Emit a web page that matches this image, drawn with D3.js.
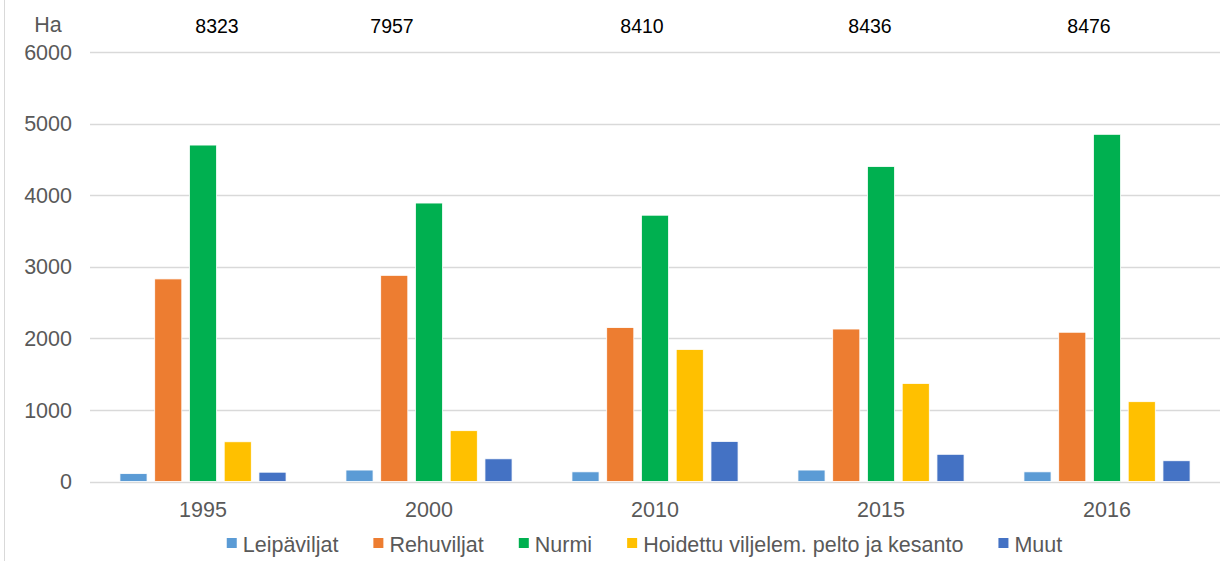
<!DOCTYPE html>
<html>
<head>
<meta charset="utf-8">
<script src="https://cdn.jsdelivr.net/npm/d3@7"></script>
<style>
  body { margin: 0; background: #fff; }
  text { font-family: "Liberation Sans", Arial, sans-serif; }
</style>
</head>
<body>
<div id="chart"></div>
<script>
// data
var years = ["1995", "2000", "2010", "2015", "2016"];
var seriesNames = ["Leipäviljat", "Rehuviljat", "Nurmi", "Hoidettu viljelem. pelto ja kesanto", "Muut"];
var leipaviljat = [110, 160, 135, 160, 135];
var rehuviljat = [2830, 2880, 2150, 2130, 2085];
var nurmi = [4700, 3890, 3720, 4400, 4850];
var hoidettu = [555, 710, 1845, 1370, 1115];
var muut = [130, 317, 560, 380, 290];
var totals = [8323, 7957, 8410, 8436, 8476];
var yTicks = [0, 1000, 2000, 3000, 4000, 5000, 6000];

var colors = ["#5b9bd5", "#ed7d31", "#00b050", "#ffc000", "#4472c4"];
var seriesValues = [leipaviljat, rehuviljat, nurmi, hoidettu, muut];
// total labels sit a bit off the group centre in the original
var totalShift = [14, -37, -13, -11, -18];

var width = 1221, height = 561;
var margin = {top: 52, right: 1, bottom: 79, left: 90};

var svg = d3.select("#chart").append("svg")
    .attr("width", width)
    .attr("height", height);

// thin frame line on the left
svg.append("line")
    .attr("x1", 4.5).attr("x2", 4.5)
    .attr("y1", 0).attr("y2", height)
    .attr("stroke", "#d9d9d9")
    .attr("stroke-width", 1);

var x0 = d3.scaleBand()
    .domain(years)
    .range([margin.left, width - margin.right])
    .paddingInner(0.265)
    .paddingOuter(0.1325);

var x1 = d3.scaleBand()
    .domain(d3.range(seriesNames.length))
    .range([0, x0.bandwidth()])
    .paddingInner(0.22);

var y = d3.scaleLinear()
    .domain([0, 6000])
    .range([height - margin.bottom - 0.5, margin.top]);

// gridlines
svg.append("g")
    .selectAll("line")
    .data(yTicks)
    .enter().append("line")
    .attr("x1", margin.left)
    .attr("x2", width - margin.right)
    .attr("y1", function(d) { return Math.round(y(d)) + 0.5; })
    .attr("y2", function(d) { return Math.round(y(d)) + 0.5; })
    .attr("stroke", "#d9d9d9")
    .attr("stroke-width", 1.3);

// y labels
svg.append("g")
    .selectAll("text")
    .data(yTicks)
    .enter().append("text")
    .attr("x", 72)
    .attr("y", function(d) { return y(d); })
    .attr("dy", "0.36em")
    .attr("text-anchor", "end")
    .attr("fill", "#595959")
    .style("font-size", "21.5px")
    .text(function(d) { return d; });

svg.append("text")
    .attr("x", 48)
    .attr("y", 32)
    .attr("text-anchor", "middle")
    .attr("fill", "#595959")
    .style("font-size", "21.5px")
    .text("Ha");

// bars
var groups = svg.append("g")
    .selectAll("g")
    .data(years)
    .enter().append("g")
    .attr("transform", function(d) { return "translate(" + x0(d) + ",0)"; });

groups.selectAll("rect")
    .data(function(d, i) {
        return seriesValues.map(function(s, k) { return {k: k, value: s[i]}; });
    })
    .enter().append("rect")
    .attr("x", function(d) { return x1(d.k); })
    .attr("width", x1.bandwidth())
    .attr("y", function(d) { return y(d.value); })
    .attr("height", function(d) { return y(0) - y(d.value); })
    .attr("fill", function(d) { return colors[d.k]; })
    .attr("stroke", "#fff")
    .attr("stroke-width", 0.8);

// x labels
svg.append("g")
    .selectAll("text")
    .data(years)
    .enter().append("text")
    .attr("x", function(d) { return x0(d) + x0.bandwidth() / 2; })
    .attr("y", 517)
    .attr("text-anchor", "middle")
    .attr("fill", "#595959")
    .style("font-size", "21.5px")
    .text(function(d) { return d; });

// totals on top
svg.append("g")
    .selectAll("text")
    .data(totals)
    .enter().append("text")
    .attr("x", function(d, i) { return x0(years[i]) + x0.bandwidth() / 2 + totalShift[i]; })
    .attr("y", 33)
    .attr("text-anchor", "middle")
    .attr("fill", "#000")
    .style("font-size", "19.5px")
    .text(function(d) { return d; });

// legend
var legend = svg.append("g");
var items = legend.selectAll("g")
    .data(seriesNames)
    .enter().append("g");

items.append("rect")
    .attr("width", 10)
    .attr("height", 10)
    .attr("y", 538)
    .attr("fill", function(d, i) { return colors[i]; });

items.append("text")
    .attr("x", 16)
    .attr("y", 552)
    .attr("fill", "#595959")
    .style("font-size", "21.5px")
    .text(function(d) { return d; });

var pos = 0;
items.each(function() {
    var g = d3.select(this);
    g.attr("transform", "translate(" + pos + ",0)");
    pos += 16 + g.select("text").node().getComputedTextLength() + 35;
});
var legendWidth = pos - 35;
legend.attr("transform", "translate(" + (644.5 - legendWidth / 2) + ",0)");
</script>
</body>
</html>
